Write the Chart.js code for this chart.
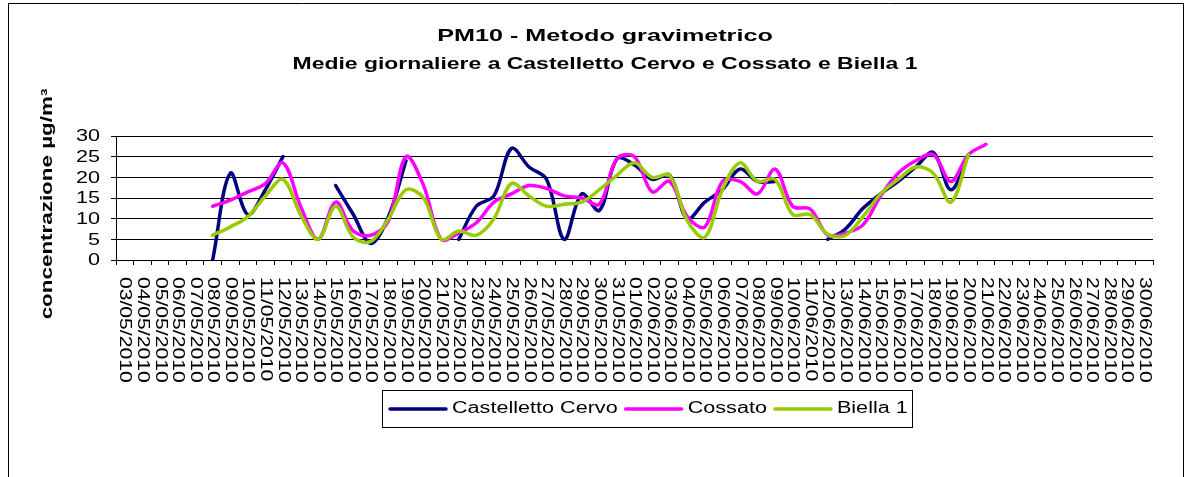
<!DOCTYPE html>
<html><head><meta charset="utf-8">
<script src="https://cdn.jsdelivr.net/npm/chart.js@4/dist/chart.umd.min.js"></script>
<style>html,body{margin:0;padding:0;background:#fff}#wrap{position:relative;width:1191px;height:477px}</style>
</head><body><div id="wrap"><canvas id="c" width="1191" height="477"></canvas></div>
<script>
const categories = ['03/05/2010','04/05/2010','05/05/2010','06/05/2010','07/05/2010','08/05/2010','09/05/2010','10/05/2010','11/05/2010','12/05/2010','13/05/2010','14/05/2010','15/05/2010','16/05/2010','17/05/2010','18/05/2010','19/05/2010','20/05/2010','21/05/2010','22/05/2010','23/05/2010','24/05/2010','25/05/2010','26/05/2010','27/05/2010','28/05/2010','29/05/2010','30/05/2010','31/05/2010','01/06/2010','02/06/2010','03/06/2010','04/06/2010','05/06/2010','06/06/2010','07/06/2010','08/06/2010','09/06/2010','10/06/2010','11/06/2010','12/06/2010','13/06/2010','14/06/2010','15/06/2010','16/06/2010','17/06/2010','18/06/2010','19/06/2010','20/06/2010','21/06/2010','22/06/2010','23/06/2010','24/06/2010','25/06/2010','26/06/2010','27/06/2010','28/06/2010','29/06/2010','30/06/2010'];
const castellettoCervo = [null,null,null,null,null,0,21,11,17,25,null,null,18,11,4,10.5,24,null,null,5,13,15.5,27,22.5,19.5,5,16,12,24.5,23,19.5,20.5,10,14,17,22,19,19,null,null,5,7.5,12.5,16,19,22.5,26,17,25.5,null,null,null,null,null,null,null,null,null,null];
const cossato = [null,null,null,null,null,13,14.5,16.5,18.5,23.5,13,5,14,7,6,9.5,25,18,5,6.5,9,14,16,18,17.3,15.5,15,13.5,24.5,25,16.5,19,10.5,8,19,19,16,22,13,12.3,6,6.5,8.5,15.5,21,24,25.5,19,25.5,28,null,null,null,null,null,null,null,null,null];
const biella1 = [null,null,null,null,null,6,8,10.5,15.5,19.5,11,5,13,5.5,4.5,10,17,15,5,7,6,10,18.5,15.5,13,13.5,14,17,20.5,23.5,20,20.5,9.5,5.5,17,23.5,19,19.5,11,11,6.2,6,10.5,16,19.5,22.5,21,14,25.5,null,null,null,null,null,null,null,null,null,null];
const seriesNames = ['Castelletto Cervo','Cossato','Biella 1'];
const seriesColors = ['#000080','#FF00FF','#99CC00'];
const yTicks = [0,5,10,15,20,25,30];
const titleLines = ['PM10 - Metodo gravimetrico','Medie giornaliere a Castelletto Cervo e Cossato e Biella 1'];
const yTitle = 'concentrazione µg/m³';

const FONT = '"Liberation Sans", Arial, sans-serif';
const SX = 1.35;

function sText(ctx, text, x, y, o) {
  ctx.save();
  ctx.translate(x, y);
  if (o.rot) ctx.rotate(o.rot);
  ctx.scale(o.sx || SX, 1);
  ctx.font = o.font;
  ctx.fillStyle = '#000';
  ctx.textAlign = o.align || 'left';
  ctx.textBaseline = o.baseline || 'middle';
  ctx.fillText(text, 0, 0);
  ctx.restore();
}

const excelText = {
  id: 'excelText',
  afterDraw(chart) {
    const ctx = chart.ctx;
    const xs = chart.scales.x, ys = chart.scales.y;
    ctx.save();
    ctx.strokeStyle = '#000';
    ctx.lineWidth = 1;
    ctx.beginPath();
    ctx.moveTo(8.5, 480); ctx.lineTo(8.5, 3.5); ctx.lineTo(1183.5, 3.5); ctx.lineTo(1183.5, 480);
    ctx.stroke();
    ctx.restore();
    sText(ctx, titleLines[0], 605, 36, {font: 'bold 17px ' + FONT, align: 'center', sx: 1.48});
    sText(ctx, titleLines[1], 605, 64, {font: 'bold 17px ' + FONT, align: 'center'});
    sText(ctx, yTitle, 48, 204, {font: 'bold 16px ' + FONT, align: 'center', rot: -Math.PI / 2, sx: 1.4});
    yTicks.forEach(v => {
      sText(ctx, String(v), 100, ys.getPixelForValue(v) + 1, {font: '16px ' + FONT, align: 'right'});
    });
    categories.forEach((lab, i) => {
      sText(ctx, lab, xs.getPixelForValue(i), 277, {font: '16px ' + FONT, align: 'left', rot: Math.PI / 2, sx: 1.32});
    });
    ctx.save();
    ctx.strokeStyle = '#000';
    ctx.lineWidth = 1;
    ctx.strokeRect(382.5, 390.5, 530, 37);
    ctx.restore();
    let lx = 390;
    const ly = 409;
    chart.data.datasets.forEach(ds => {
      ctx.save();
      ctx.strokeStyle = ds.borderColor;
      ctx.lineWidth = 3.5;
      ctx.lineCap = 'round';
      ctx.beginPath(); ctx.moveTo(lx, ly); ctx.lineTo(lx + 56, ly); ctx.stroke();
      ctx.restore();
      lx += 62;
      sText(ctx, ds.label, lx, ly, {font: '16px ' + FONT, align: 'left'});
      ctx.save(); ctx.font = '16px ' + FONT;
      lx += ctx.measureText(ds.label).width * SX + 8;
      ctx.restore();
    });
  }
};

const datasets = [castellettoCervo, cossato, biella1].map((d, i) => ({
  label: seriesNames[i],
  data: d,
  borderColor: seriesColors[i],
  backgroundColor: seriesColors[i],
  borderWidth: 3.5,
  pointRadius: 0,
  tension: 0.35,
  borderCapStyle: 'round',
  borderJoinStyle: 'round',
  spanGaps: false,
  fill: false,
  order: 2 - i
}));

new Chart(document.getElementById('c'), {
  type: 'line',
  data: { labels: categories, datasets },
  options: {
    responsive: false,
    animation: false,
    devicePixelRatio: 1,
    layout: { padding: { left: 0, right: 38, top: 136, bottom: 0 } },
    plugins: { legend: { display: false }, title: { display: false }, tooltip: { enabled: false } },
    scales: {
      x: {
        type: 'category',
        offset: true,
        grid: { offset: true, drawOnChartArea: false, drawTicks: true, tickLength: 5, color: '#000', lineWidth: 1 },
        border: { display: true, color: '#000', width: 1 },
        ticks: { display: false },
        afterFit(s) { s.height = 217; }
      },
      y: {
        min: 0, max: 30,
        ticks: { display: false, stepSize: 5 },
        grid: { color: '#000', lineWidth: 1, drawTicks: true, tickLength: 5 },
        border: { display: true, color: '#000', width: 1 },
        afterFit(s) { s.width = 116; }
      }
    }
  },
  plugins: [excelText]
});
</script>
</body></html>
